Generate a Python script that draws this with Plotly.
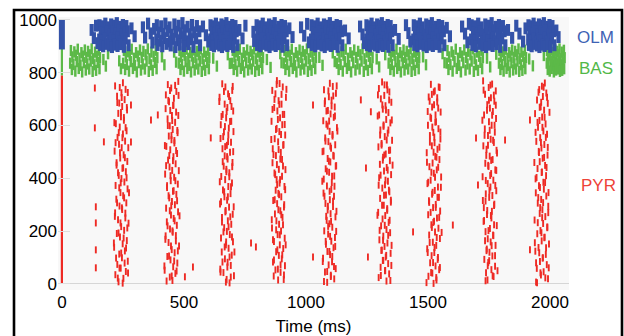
import plotly.graph_objects as go

# ---------------- data (spike times in ms, neuron index) ----------------
INIT_T = 0
POP_RANGES = {"PYR": (0, 790), "BAS": (790, 900), "OLM": (888, 1000)}

PYR_SPIKES = [
    # burst ~244 ms
    (232,8),(252,21),(219,35),(262,47),(241,60),(227,74),(270,86),(246,99),(235,113),(258,125),
    (214,139),(249,152),(266,164),(238,178),(225,191),(255,203),(243,217),(273,230),(230,243),(217,256),
    (260,268),(247,282),(236,295),(264,307),(223,321),(251,334),(240,346),(269,360),(220,373),(256,386),
    (244,399),(233,411),(262,425),(248,438),(224,450),(268,464),(239,477),(253,489),(216,503),(245,516),
    (234,529),(259,541),(228,555),(250,568),(265,580),(237,594),(221,607),(254,620),(242,633),(231,646),
    (267,659),(247,672),(235,685),(257,698),(226,711),(244,724),(261,737),(218,750),(250,762),
    (249,3),(229,22),(271,41),(236,60),(257,79),(222,98),(243,117),(263,136),(213,155),(253,174),
    (232,193),(268,212),(240,231),(260,250),(218,269),(246,288),(226,307),(255,326),(275,345),(235,364),
    (241,383),(265,402),(230,421),(251,440),(224,459),(258,478),(238,497),(272,516),(220,535),(248,554),
    (233,573),(261,592),(215,611),(254,630),(242,649),(266,668),(227,687),(245,706),(270,725),(237,744),
    # burst ~451 ms
    (453,13),(442,26),(465,40),(421,52),(456,65),(473,79),(445,91),(432,104),(462,118),(450,130),
    (480,144),(437,157),(424,169),(467,183),(454,196),(443,208),(471,222),(430,235),(458,248),(447,261),
    (476,273),(427,287),(463,300),(451,312),(440,326),(469,339),(455,351),(431,365),(475,378),(446,391),
    (460,404),(423,416),(452,430),(441,443),(466,455),(435,469),(457,482),(472,494),(444,508),(428,521),
    (461,534),(449,546),(438,560),(474,573),(454,585),(442,599),(464,612),(433,625),(451,638),(468,651),
    (425,664),(457,677),(439,690),(459,703),(426,716),(469,729),(448,742),(434,755),(477,767),
    (429,11),(450,30),(470,49),(420,68),(460,87),(439,106),(475,125),(447,144),(467,163),(425,182),
    (453,201),(433,220),(462,239),(482,258),(442,277),(448,296),(472,315),(437,334),(458,353),(431,372),
    (465,391),(445,410),(479,429),(427,448),(455,467),(440,486),(468,505),(422,524),(461,543),(449,562),
    (473,581),(434,600),(452,619),(477,638),(444,657),(456,676),(436,695),(478,714),(443,733),(464,752),
    # burst ~676 ms
    (687,4),(675,17),(705,31),(662,43),(649,56),(692,70),(679,82),(668,95),(696,109),(655,121),
    (683,135),(672,148),(701,160),(652,174),(688,187),(676,199),(665,213),(694,226),(680,239),(656,252),
    (700,264),(671,278),(685,291),(648,303),(677,317),(666,330),(691,342),(660,356),(682,369),(697,382),
    (669,395),(653,407),(686,421),(674,434),(663,446),(699,460),(679,473),(667,485),(689,499),(658,512),
    (676,525),(693,537),(650,551),(682,564),(664,576),(684,590),(651,603),(694,616),(673,629),(659,642),
    (702,655),(678,668),(667,681),(690,694),(646,707),(681,720),(698,733),(670,746),(657,758),
    (672,7),(692,26),(650,45),(678,64),(658,83),(687,102),(707,121),(667,140),(673,159),(697,178),
    (662,197),(683,216),(656,235),(690,254),(670,273),(704,292),(652,311),(680,330),(665,349),(693,368),
    (647,387),(686,406),(674,425),(698,444),(659,463),(677,482),(702,501),(669,520),(681,539),(661,558),
    (703,577),(668,596),(689,615),(654,634),(675,653),(695,672),(645,691),(685,710),(664,729),(700,748),
    # burst ~889 ms
    (909,17),(868,30),(896,44),(885,56),(914,69),(865,83),(901,95),(889,108),(878,122),(907,134),
    (893,148),(869,161),(913,173),(884,187),(898,200),(861,212),(890,226),(879,239),(904,252),(873,265),
    (895,277),(910,291),(882,304),(866,316),(899,330),(887,343),(876,355),(912,369),(892,382),(880,395),
    (902,408),(871,420),(889,434),(906,447),(863,459),(895,473),(877,486),(897,498),(864,512),(907,525),
    (886,538),(872,550),(915,564),(891,577),(880,589),(903,603),(859,616),(894,629),(911,642),(883,655),
    (870,668),(900,681),(888,694),(918,707),(875,720),(862,733),(905,746),(892,759),(881,770),
    (886,15),(910,34),(875,53),(896,72),(869,91),(903,110),(883,129),(917,148),(865,167),(893,186),
    (878,205),(906,224),(860,243),(899,262),(887,281),(911,300),(872,319),(890,338),(915,357),(882,376),
    (894,395),(874,414),(916,433),(881,452),(902,471),(867,490),(888,509),(908,528),(858,547),(898,566),
    (877,585),(913,604),(885,623),(905,642),(863,661),(891,680),(871,699),(900,718),(920,737),(880,756),
    # burst ~1098 ms
    (1087,6),(1116,19),(1102,33),(1078,45),(1122,58),(1093,72),(1107,84),(1070,97),(1099,111),(1088,123),
    (1113,137),(1082,150),(1104,162),(1119,176),(1091,189),(1075,201),(1108,215),(1096,228),(1085,241),(1121,254),
    (1101,266),(1089,280),(1111,293),(1080,305),(1098,319),(1115,332),(1072,344),(1104,358),(1086,371),(1106,384),
    (1073,397),(1116,409),(1095,423),(1081,436),(1124,448),(1100,462),(1089,475),(1112,487),(1068,501),(1103,514),
    (1120,527),(1092,539),(1079,553),(1109,566),(1097,578),(1127,592),(1084,605),(1071,618),(1114,631),(1101,644),
    (1090,657),(1118,670),(1077,683),(1105,696),(1094,709),(1123,722),(1074,735),(1110,748),(1098,760),
    (1074,9),(1102,28),(1087,47),(1115,66),(1069,85),(1108,104),(1096,123),(1120,142),(1081,161),(1099,180),
    (1124,199),(1091,218),(1103,237),(1083,256),(1125,275),(1090,294),(1111,313),(1076,332),(1097,351),(1117,370),
    (1067,389),(1107,408),(1086,427),(1122,446),(1094,465),(1114,484),(1072,503),(1100,522),(1080,541),(1109,560),
    (1129,579),(1089,598),(1095,617),(1119,636),(1084,655),(1105,674),(1078,693),(1112,712),(1092,731),(1126,750),
    # burst ~1324 ms
    (1330,11),(1298,24),(1341,38),(1324,50),(1306,63),(1337,77),(1315,89),(1327,102),(1347,116),(1311,128),
    (1322,142),(1334,155),(1301,167),(1317,181),(1345,194),(1330,206),(1308,220),(1339,233),(1314,246),(1325,259),
    (1296,271),(1333,285),(1319,298),(1348,310),(1304,324),(1328,337),(1342,349),(1313,363),(1324,376),(1336,389),
    (1300,402),(1349,414),(1320,428),(1331,441),(1303,453),(1344,467),(1316,480),(1327,492),(1340,506),(1297,519),
    (1310,532),(1353,544),(1323,558),(1335,571),(1305,583),(1318,597),(1346,610),(1329,623),(1294,636),(1338,649),
    (1315,662),(1326,675),(1350,688),(1307,701),(1321,714),(1342,727),(1299,740),(1332,753),(1312,765),
    (1346,13),(1307,32),(1325,51),(1350,70),(1317,89),(1329,108),(1309,127),(1351,146),(1316,165),(1337,184),
    (1302,203),(1323,222),(1343,241),(1293,260),(1333,279),(1312,298),(1348,317),(1320,336),(1340,355),(1298,374),
    (1326,393),(1306,412),(1335,431),(1355,450),(1315,469),(1321,488),(1345,507),(1310,526),(1331,545),(1304,564),
    (1338,583),(1318,602),(1352,621),(1300,640),(1328,659),(1313,678),(1341,697),(1295,716),(1334,735),(1322,754),
    # burst ~1525 ms
    (1523,2),(1535,15),(1502,29),(1518,41),(1546,54),(1531,68),(1509,80),(1540,93),(1515,107),(1526,119),
    (1497,133),(1534,146),(1520,158),(1549,172),(1505,185),(1529,197),(1543,211),(1514,224),(1525,237),(1537,250),
    (1501,262),(1550,276),(1521,289),(1532,301),(1504,315),(1545,328),(1517,340),(1528,354),(1541,367),(1498,380),
    (1511,393),(1554,405),(1524,419),(1536,432),(1506,444),(1519,458),(1547,471),(1530,483),(1495,497),(1539,510),
    (1516,523),(1527,535),(1551,549),(1508,562),(1522,574),(1543,588),(1500,601),(1533,614),(1513,627),(1531,640),
    (1499,653),(1542,666),(1525,679),(1507,692),(1538,705),(1516,718),(1528,731),(1548,744),(1512,756),
    (1494,5),(1534,24),(1513,43),(1549,62),(1521,81),(1541,100),(1499,119),(1527,138),(1507,157),(1536,176),
    (1556,195),(1516,214),(1522,233),(1546,252),(1511,271),(1532,290),(1505,309),(1539,328),(1519,347),(1553,366),
    (1501,385),(1529,404),(1514,423),(1542,442),(1496,461),(1535,480),(1523,499),(1547,518),(1508,537),(1526,556),
    (1551,575),(1518,594),(1530,613),(1510,632),(1552,651),(1517,670),(1538,689),(1503,708),(1524,727),(1544,746),
    # burst ~1754 ms
    (1744,15),(1769,28),(1738,42),(1760,54),(1775,67),(1747,81),(1731,93),(1764,106),(1752,120),(1741,132),
    (1777,146),(1757,159),(1745,171),(1767,185),(1736,198),(1754,210),(1771,224),(1728,237),(1760,250),(1742,263),
    (1762,275),(1729,289),(1772,302),(1736,314),(1751,328),(1737,341),(1780,353),(1756,367),(1745,380),(1768,393),
    (1724,406),(1759,418),(1776,432),(1748,445),(1735,457),(1765,471),(1753,484),(1783,496),(1740,510),(1727,523),
    (1770,536),(1757,548),(1746,562),(1774,575),(1733,587),(1761,601),(1750,614),(1779,627),(1730,640),(1766,653),
    (1754,666),(1743,679),(1772,692),(1758,705),(1734,718),(1778,731),(1749,744),(1763,757),(1726,769),
    (1736,12),(1765,31),(1785,50),(1745,69),(1751,88),(1775,107),(1740,126),(1761,145),(1734,164),(1768,183),
    (1748,202),(1782,221),(1730,240),(1758,259),(1743,278),(1771,297),(1725,316),(1764,335),(1752,354),(1776,373),
    (1737,392),(1755,411),(1780,430),(1747,449),(1759,468),(1739,487),(1781,506),(1746,525),(1767,544),(1732,563),
    (1753,582),(1773,601),(1723,620),(1763,639),(1742,658),(1778,677),(1750,696),(1770,715),(1728,734),(1756,753),
    # burst ~1967 ms
    (1943,7),(1992,20),(1963,34),(1974,46),(1946,59),(1987,73),(1959,85),(1970,98),(1983,112),(1940,124),
    (1953,138),(1996,151),(1966,163),(1978,177),(1948,190),(1961,202),(1989,216),(1972,229),(1937,242),(1981,255),
    (1958,267),(1969,281),(1993,294),(1950,306),(1964,320),(1985,333),(1942,345),(1975,359),(1955,372),(1973,385),
    (1941,398),(1984,410),(1967,424),(1949,437),(1980,449),(1958,463),(1970,476),(1990,488),(1954,502),(1965,515),
    (1977,528),(1944,540),(1960,554),(1988,567),(1973,579),(1951,593),(1982,606),(1957,619),(1968,632),(1939,645),
    (1976,658),(1962,671),(1991,684),(1947,697),(1971,710),(1985,723),(1956,736),(1967,749),(1979,761),
    (1947,4),(1981,23),(1961,42),(1995,61),(1943,80),(1971,99),(1956,118),(1984,137),(1938,156),(1977,175),
    (1965,194),(1989,213),(1950,232),(1968,251),(1993,270),(1960,289),(1972,308),(1952,327),(1994,346),(1959,365),
    (1980,384),(1945,403),(1966,422),(1986,441),(1936,460),(1976,479),(1955,498),(1991,517),(1963,536),(1983,555),
    (1941,574),(1969,593),(1949,612),(1978,631),(1998,650),(1958,669),(1964,688),(1988,707),(1953,726),(1974,745),
    # isolated spikes
    (135,742),(135,591),(139,292),(139,231),(139,129),(139,61),(172,538),(283,678),(283,538),(365,621),
    (393,640),(504,27),(537,64),(610,553),(775,155),(795,140),(1029,678),(1029,102),(1225,697),(1246,439),
    (1254,102),(1266,652),(1439,197),(1602,223),(1697,553),(1705,375),(1816,545),(1918,621),(1918,129),
]

BAS_SPIKES = [
    # block ~33-160 ms
    (37,884),(51,879),(65,889),(80,876),(94,886),(107,881),(122,890),(136,878),(151,885),
    (43,860),(57,866),(72,855),(86,863),(100,858),(114,868),(128,853),(143,862),(156,857),
    (34,836),(47,831),(61,842),(76,828),(90,838),(104,833),(118,844),(133,830),(147,839),
    (41,812),(55,806),(69,816),(83,803),(98,810),(112,814),(126,805),(140,809),(154,815),
    # block ~250-395 ms
    (254,884),(270,879),(286,889),(304,876),(320,886),(334,881),(352,890),(367,878),(385,885),
    (262,860),(278,866),(295,855),(311,863),(327,858),(343,868),(359,853),(376,862),(391,857),
    (251,836),(266,831),(282,842),(299,828),(315,838),(331,833),(347,844),(365,830),(381,839),
    (259,812),(275,806),(291,816),(307,803),(324,810),(340,814),(356,805),(372,809),(388,815),
    # block ~478-608 ms
    (482,884),(496,879),(511,889),(526,876),(540,886),(553,881),(569,890),(583,878),(599,885),
    (488,860),(503,866),(518,855),(533,863),(547,858),(561,868),(576,853),(591,862),(604,857),
    (479,836),(492,831),(507,842),(522,828),(537,838),(551,833),(565,844),(581,830),(595,839),
    (486,812),(500,806),(514,816),(529,803),(544,810),(559,814),(573,805),(587,809),(602,815),
    # block ~696-828 ms
    (700,884),(714,879),(729,889),(745,876),(759,886),(773,881),(788,890),(803,878),(819,885),
    (707,860),(721,866),(737,855),(751,863),(766,858),(780,868),(795,853),(811,862),(824,857),
    (697,836),(711,831),(725,842),(741,828),(755,838),(770,833),(784,844),(800,830),(815,839),
    (704,812),(718,806),(733,816),(747,803),(763,810),(778,814),(792,805),(807,809),(821,815),
    # block ~908-1045 ms
    (912,884),(927,879),(942,889),(959,876),(974,886),(987,881),(1004,890),(1019,878),(1035,885),
    (919,860),(934,866),(950,855),(966,863),(981,858),(996,868),(1011,853),(1027,862),(1041,857),
    (909,836),(923,831),(938,842),(955,828),(970,838),(985,833),(1000,844),(1016,830),(1031,839),
    (916,812),(931,806),(946,816),(961,803),(978,810),(993,814),(1008,805),(1023,809),(1038,815),
    # block ~1125-1278 ms
    (1130,884),(1146,879),(1163,889),(1182,876),(1198,886),(1214,881),(1232,890),(1249,878),(1267,885),
    (1137,860),(1154,866),(1172,855),(1189,863),(1206,858),(1223,868),(1240,853),(1258,862),(1273,857),
    (1127,836),(1142,831),(1159,842),(1177,828),(1194,838),(1211,833),(1228,844),(1246,830),(1263,839),
    (1134,812),(1151,806),(1168,816),(1185,803),(1203,810),(1220,814),(1237,805),(1254,809),(1270,815),
    # block ~1338-1468 ms
    (1342,884),(1356,879),(1371,889),(1386,876),(1400,886),(1413,881),(1429,890),(1443,878),(1459,885),
    (1348,860),(1363,866),(1378,855),(1393,863),(1407,858),(1421,868),(1436,853),(1451,862),(1464,857),
    (1339,836),(1352,831),(1367,842),(1382,828),(1397,838),(1411,833),(1425,844),(1441,830),(1455,839),
    (1346,812),(1360,806),(1374,816),(1389,803),(1404,810),(1419,814),(1433,805),(1447,809),(1462,815),
    # block ~1575-1730 ms
    (1580,884),(1597,879),(1614,889),(1632,876),(1649,886),(1665,881),(1684,890),(1701,878),(1719,885),
    (1587,860),(1604,866),(1623,855),(1640,863),(1657,858),(1674,868),(1691,853),(1710,862),(1725,857),
    (1577,836),(1592,831),(1609,842),(1628,828),(1645,838),(1662,833),(1679,844),(1697,830),(1715,839),
    (1584,812),(1601,806),(1618,816),(1635,803),(1654,810),(1671,814),(1688,805),(1705,809),(1722,815),
    # block ~1790-1905 ms
    (1793,884),(1806,879),(1819,889),(1833,876),(1845,886),(1857,881),(1871,890),(1883,878),(1897,885),
    (1799,860),(1812,866),(1826,855),(1838,863),(1851,858),(1864,868),(1876,853),(1890,862),(1902,857),
    (1791,836),(1803,831),(1815,842),(1829,828),(1842,838),(1854,833),(1867,844),(1881,830),(1894,839),
    (1797,812),(1810,806),(1822,816),(1835,803),(1849,810),(1861,814),(1874,805),(1887,809),(1899,815),
    # block ~1986-2062 ms
    (1988,884),(1997,879),(2005,889),(2014,876),(2022,886),(2030,881),(2039,890),(2048,878),(2057,885),
    (1992,860),(2000,866),(2010,855),(2018,863),(2026,858),(2035,868),(2043,853),(2052,862),(2060,857),
    (1987,836),(1994,831),(2003,842),(2012,828),(2020,838),(2029,833),(2037,844),(2046,830),(2054,839),
    (1991,812),(1999,806),(2007,816),(2016,803),(2025,810),(2033,814),(2041,805),(2050,809),(2058,815),
    # isolated spikes
    (170,850),(180,825),(189,872),(235,845),(242,815),(410,860),(420,830),(460,878),(468,840),(620,855),
    (635,825),(680,868),(688,835),(840,850),(855,820),(895,872),(900,838),(1055,858),(1068,828),(1110,875),
    (1118,842),(1290,852),(1300,822),(1325,868),(1480,860),(1492,830),(1560,872),(1568,838),(1742,855),
    (1755,822),(1780,870),(1915,852),(1930,826),(1975,865),
]

OLM_SPIKES = [
    # block ~152-275 ms
    (154,980),(167,976),(178,986),(189,972),(202,983),(214,978),(225,988),(238,974),(250,981),(264,977),
    (159,952),(172,947),(184,958),(195,944),(207,955),(220,949),(231,961),(244,946),(257,953),(270,957),
    (153,926),(164,921),(175,931),(190,918),(200,928),(211,923),(227,934),(236,919),(249,927),(261,930),
    (157,905),(169,900),(182,909),(193,903),(205,897),(217,906),(228,901),(241,908),(254,898),(273,904),
    # block ~385-570 ms
    (389,980),(407,976),(424,986),(441,972),(461,983),(478,978),(494,988),(515,974),(533,981),(553,977),
    (396,952),(415,947),(433,958),(450,944),(468,955),(487,949),(503,961),(524,946),(542,953),(563,957),
    (387,926),(404,921),(420,931),(442,918),(457,928),(474,923),(498,934),(511,919),(531,927),(550,930),
    (392,905),(411,900),(429,909),(446,903),(465,897),(483,906),(500,901),(518,908),(539,898),(566,904),
    # block ~607-721 ms
    (609,980),(621,976),(631,986),(641,972),(654,983),(664,978),(674,988),(687,974),(698,981),(711,977),
    (614,952),(625,947),(637,958),(647,944),(658,955),(670,949),(680,961),(693,946),(704,953),(716,957),
    (608,926),(618,921),(629,931),(642,918),(651,928),(662,923),(677,934),(685,919),(697,927),(708,930),
    (612,905),(623,900),(634,909),(645,903),(656,897),(667,906),(678,901),(689,908),(702,898),(719,904),
    # block ~795-926 ms
    (798,980),(811,976),(823,986),(834,972),(849,983),(860,978),(872,988),(887,974),(900,981),(914,977),
    (803,952),(816,947),(829,958),(841,944),(854,955),(867,949),(879,961),(893,946),(906,953),(921,957),
    (796,926),(808,921),(820,931),(836,918),(846,928),(858,923),(875,934),(884,919),(898,927),(912,930),
    (800,905),(813,900),(826,909),(838,903),(851,897),(864,906),(876,901),(889,908),(904,898),(923,904),
    # block ~1020-1152 ms
    (1023,980),(1036,976),(1048,986),(1060,972),(1074,983),(1086,978),(1098,988),(1112,974),(1126,981),(1140,977),
    (1028,952),(1041,947),(1054,958),(1066,944),(1079,955),(1093,949),(1104,961),(1119,946),(1132,953),(1147,957),
    (1021,926),(1033,921),(1045,931),(1061,918),(1071,928),(1083,923),(1101,934),(1110,919),(1124,927),(1137,930),
    (1025,905),(1038,900),(1052,909),(1064,903),(1077,897),(1090,906),(1102,901),(1115,908),(1130,898),(1149,904),
    # block ~1246-1357 ms
    (1248,980),(1259,976),(1269,986),(1279,972),(1292,983),(1302,978),(1311,988),(1324,974),(1335,981),(1347,977),
    (1253,952),(1264,947),(1275,958),(1285,944),(1296,955),(1307,949),(1317,961),(1329,946),(1340,953),(1353,957),
    (1247,926),(1257,921),(1267,931),(1280,918),(1289,928),(1299,923),(1314,934),(1321,919),(1334,927),(1345,930),
    (1250,905),(1262,900),(1273,909),(1283,903),(1294,897),(1305,906),(1315,901),(1326,908),(1338,898),(1355,904),
    # block ~1439-1570 ms
    (1442,980),(1455,976),(1467,986),(1478,972),(1493,983),(1504,978),(1516,988),(1531,974),(1544,981),(1558,977),
    (1447,952),(1460,947),(1473,958),(1485,944),(1498,955),(1511,949),(1523,961),(1537,946),(1550,953),(1565,957),
    (1440,926),(1452,921),(1464,931),(1480,918),(1490,928),(1502,923),(1519,934),(1528,919),(1542,927),(1556,930),
    (1444,905),(1457,900),(1470,909),(1482,903),(1495,897),(1508,906),(1520,901),(1533,908),(1548,898),(1567,904),
    # block ~1676-1820 ms
    (1679,980),(1693,976),(1706,986),(1719,972),(1735,983),(1748,978),(1761,988),(1777,974),(1791,981),(1807,977),
    (1685,952),(1699,947),(1713,958),(1726,944),(1741,955),(1755,949),(1768,961),(1784,946),(1798,953),(1814,957),
    (1677,926),(1690,921),(1703,931),(1721,918),(1732,928),(1745,923),(1764,934),(1774,919),(1790,927),(1804,930),
    (1682,905),(1696,900),(1711,909),(1724,903),(1738,897),(1752,906),(1765,901),(1780,908),(1796,898),(1817,904),
    # block ~1910-2020 ms
    (1912,980),(1923,976),(1933,986),(1943,972),(1955,983),(1965,978),(1975,988),(1987,974),(1998,981),(2010,977),
    (1917,952),(1928,947),(1939,958),(1949,944),(1960,955),(1971,949),(1980,961),(1993,946),(2004,953),(2016,957),
    (1911,926),(1921,921),(1931,931),(1944,918),(1953,928),(1963,923),(1977,934),(1985,919),(1997,927),(2008,930),
    (1914,905),(1925,900),(1936,909),(1946,903),(1957,897),(1968,906),(1978,901),(1989,908),(2001,898),(2018,904),
    # isolated spikes
    (122,962),(131,931),(140,978),(146,912),(285,968),(298,938),(332,972),(341,933),(353,986),(364,949),
    (371,914),(378,966),(578,975),(590,942),(600,918),(727,962),(740,930),(752,978),(785,955),(788,920),
    (932,968),(945,935),(980,972),(993,940),(1005,985),(1012,915),(1160,960),(1175,930),(1222,975),(1232,945),
    (1238,912),(1365,962),(1380,928),(1410,980),(1420,950),(1428,918),(1577,970),(1590,938),(1640,975),(1652,948),
    (1662,915),(1668,985),(1828,962),(1845,932),(1862,978),(1875,948),(1890,918),(1900,968),(2026,960),(2035,935),
]

X_TICKS = [0, 500, 1000, 1500, 2000]
Y_TICKS = [0, 200, 400, 600, 800, 1000]
POP_LABELS = ["OLM", "BAS", "PYR"]

# ---------------- styling ----------------
COLORS = {"PYR": "#ee2a24", "BAS": "#5cb948", "OLM": "#3352a8"}
LABEL_COLORS = {"PYR": "#ee4338", "BAS": "#52b848", "OLM": "#3e62b4"}
FONT = "Liberation Sans, Arial, sans-serif"

W, H = 624, 336
ML, MR, MT, MB = 58, 55, 17, 46
PW, PH = W - ML - MR, H - MT - MB


def px_to_paper_x(px):
    return (px - ML) / PW


def px_to_paper_y(py):
    return (H - MB - py) / PH


def raster(spikes, color, size, width):
    return go.Scatter(
        x=[s[0] for s in spikes], y=[s[1] for s in spikes], mode="markers",
        marker=dict(symbol="line-ns", size=size, color=color,
                    line=dict(color=color, width=width)),
        hoverinfo="skip", showlegend=False)


fig = go.Figure()

# synchronous spike at the start for every population
sync_width = {"PYR": 2.2, "BAS": 2.2, "OLM": 6}
for pop in ["PYR", "BAS", "OLM"]:
    lo, hi = POP_RANGES[pop]
    fig.add_trace(go.Scatter(x=[INIT_T, INIT_T], y=[lo, hi], mode="lines",
                             line=dict(color=COLORS[pop], width=sync_width[pop]),
                             hoverinfo="skip", showlegend=False))

fig.add_trace(raster(PYR_SPIKES, COLORS["PYR"], 5, 1.9))
fig.add_trace(raster(BAS_SPIKES, COLORS["BAS"], 8, 2.5))
fig.add_trace(raster(OLM_SPIKES, COLORS["OLM"], 8.5, 4.2))

label_pos = {"OLM": (575, 38), "BAS": (577, 68), "PYR": (579, 185)}
for pop in POP_LABELS:
    lx, ly = label_pos[pop]
    fig.add_annotation(x=px_to_paper_x(lx), y=px_to_paper_y(ly), xref="paper", yref="paper",
                       text=pop, showarrow=False, xanchor="left", yanchor="middle",
                       font=dict(family=FONT, size=17, color=LABEL_COLORS[pop]))

# outer black frame
fig.add_shape(type="path", xref="paper", yref="paper",
              path=f"M {px_to_paper_x(14)},{px_to_paper_y(345)} L {px_to_paper_x(14)},{px_to_paper_y(10)} "
                   f"L {px_to_paper_x(622)},{px_to_paper_y(10)} L {px_to_paper_x(622)},{px_to_paper_y(345)}",
              line=dict(color="black", width=2.6))

fig.update_layout(
    width=W, height=H, margin=dict(l=ML, r=MR, t=MT, b=MB, autoexpand=False),
    paper_bgcolor="white", plot_bgcolor="#f8f8f8",
    font=dict(family=FONT, size=17, color="black"),
    xaxis=dict(range=[-16, 2078], tickvals=X_TICKS, showgrid=False, zeroline=False,
               showline=False, ticks="", tickfont=dict(size=17), automargin=False,
               title=dict(text="Time (ms)", font=dict(size=17), standoff=10)),
    yaxis=dict(range=[-23, 1011], tickvals=Y_TICKS, showgrid=False, zeroline=True,
               zerolinecolor="#d6d6d6", zerolinewidth=1, showline=False, automargin=False,
               ticks="inside", ticklen=12, tickcolor="#dedede", tickwidth=1,
               tickfont=dict(size=17)),
)

fig.write_html("out.html")
